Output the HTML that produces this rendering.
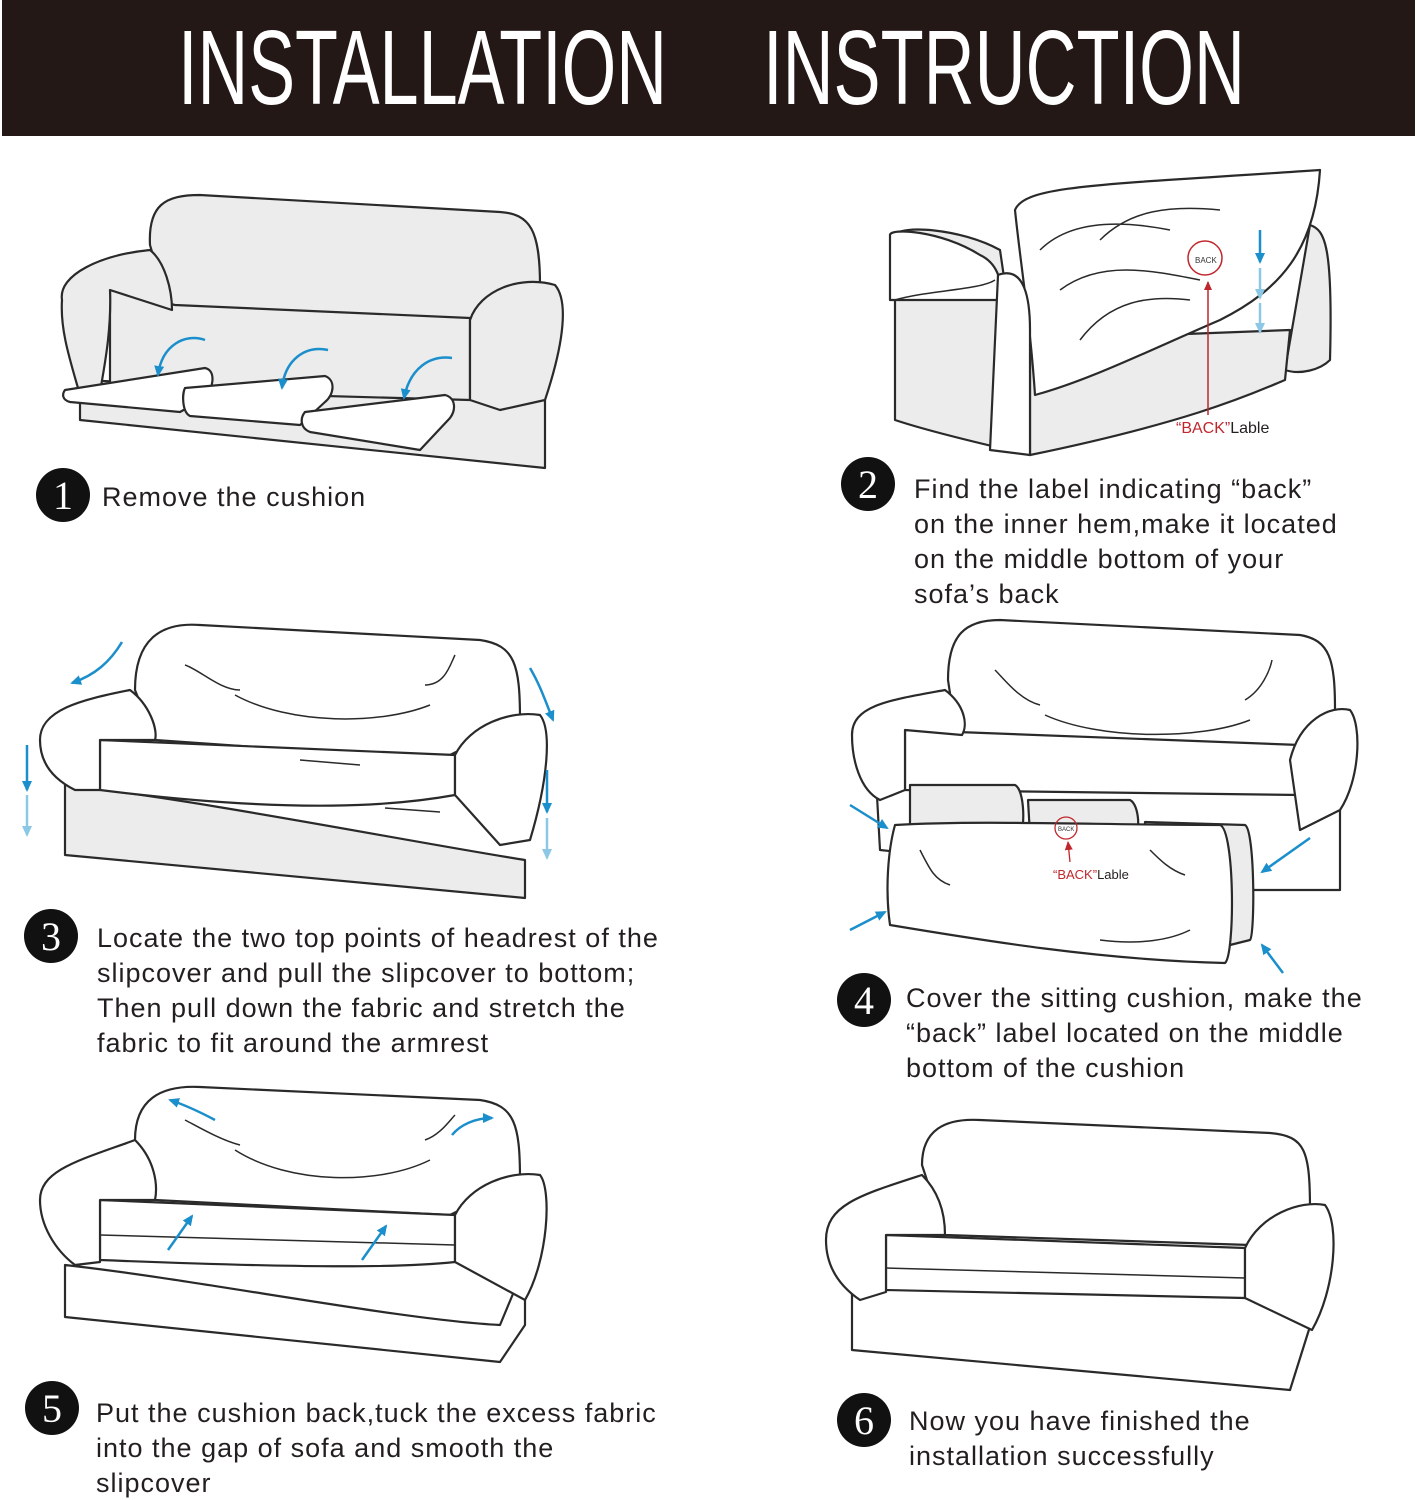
<!DOCTYPE html>
<html><head><meta charset="utf-8"><style>
html,body{margin:0;padding:0;background:#fff;}
svg{display:block}
.t{font-family:"Liberation Sans",Arial,sans-serif;font-size:27px;fill:#231f20;letter-spacing:1px}
.n{font-family:"Liberation Serif",serif;font-size:40px;fill:#fff;text-anchor:middle}
.s{fill:#ececec;stroke:#2a2a2a;stroke-width:2.2;stroke-linejoin:round}
.w{fill:#fff;stroke:#2a2a2a;stroke-width:2.2;stroke-linejoin:round}
.l{fill:none;stroke:#2a2a2a;stroke-width:1.5}
.b{fill:none;stroke:#1b8fcb;stroke-width:2.5}
.bl{fill:none;stroke:#8cc8e6;stroke-width:2.5}
</style></head><body>
<svg width="1417" height="1500" viewBox="0 0 1417 1500" xmlns="http://www.w3.org/2000/svg">
<defs>
<marker id="a" markerUnits="userSpaceOnUse" markerWidth="12" markerHeight="12" refX="9" refY="6" orient="auto"><path d="M0,1 L11,6 L0,11 Z" fill="#1b8fcb"/></marker>
<marker id="al" markerUnits="userSpaceOnUse" markerWidth="12" markerHeight="12" refX="9" refY="6" orient="auto"><path d="M0,1 L11,6 L0,11 Z" fill="#8cc8e6"/></marker>
<marker id="r" markerUnits="userSpaceOnUse" markerWidth="10" markerHeight="10" refX="8" refY="5" orient="auto"><path d="M0,1 L9,5 L0,9 Z" fill="#c0272d"/></marker>
</defs>
<rect x="2" y="0" width="1413" height="136" fill="#231816"/>
<text x="178" y="104" font-family="Liberation Sans Narrow,Liberation Sans,sans-serif" font-size="106" fill="#fff" textLength="489" lengthAdjust="spacingAndGlyphs">INSTALLATION</text>
<text x="763" y="104" font-family="Liberation Sans Narrow,Liberation Sans,sans-serif" font-size="106" fill="#fff" textLength="482" lengthAdjust="spacingAndGlyphs">INSTRUCTION</text>

<!-- Sofa 1 -->
<path class="s" d="M80,380 L545,400 L545,468 L80,420 Z"/>
<path class="s" d="M150,245 C148,205 165,195 200,195 L500,212 C530,214 540,230 540,285 L540,330 L175,330 Z"/>
<path class="s" d="M110,290 L175,305 L470,318 L470,400 L110,390 Z"/>
<path class="s" d="M62,300 C58,275 100,255 150,250 C165,262 172,290 172,310 L110,290 C112,340 100,385 100,395 L80,395 C70,360 60,330 62,300 Z"/>
<path class="s" d="M470,320 C480,290 520,275 555,285 C568,300 565,340 545,400 L500,410 L470,400 Z"/>
<path class="w" d="M65,390 L205,368 C215,370 215,385 205,398 L180,412 L70,402 C62,400 62,394 65,390 Z"/>
<path class="w" d="M185,388 L325,376 C336,380 334,395 325,402 L300,425 L190,416 C182,412 182,394 185,388 Z"/>
<path class="w" d="M305,412 L445,395 C456,398 456,410 450,418 L420,450 L310,432 C300,428 300,418 305,412 Z"/>
<path class="b" marker-end="url(#a)" d="M205,340 C185,333 162,345 158,375"/>
<path class="b" marker-end="url(#a)" d="M328,350 C305,345 285,360 282,388"/>
<path class="b" marker-end="url(#a)" d="M452,358 C430,355 410,368 404,398"/>

<!-- Sofa 2 -->
<path class="s" d="M895,235 C900,225 960,228 1000,250 L1030,455 C1010,450 940,435 895,420 Z"/>
<path class="s" d="M1310,225 C1325,230 1333,245 1330,360 C1320,370 1300,375 1285,370 Z"/>
<path class="s" d="M1030,340 L1290,330 L1285,380 C1260,390 1200,420 1030,455 Z"/>
<path class="w" d="M1015,210 C1025,185 1100,185 1320,170 C1315,250 1280,290 1220,320 C1150,350 1090,380 1035,395 C1030,320 1020,260 1015,210 Z"/>
<path class="l" d="M1040,250 C1070,220 1120,220 1170,230 M1060,290 C1100,260 1150,270 1200,280 M1080,340 C1110,300 1150,295 1190,300 M1100,240 C1130,210 1170,205 1220,210"/>
<path class="w" d="M890,235 C890,228 940,230 980,255 C995,262 1005,280 998,300 L890,300 Z"/>
<path class="w" d="M998,275 C1025,265 1030,300 1030,330 L1030,455 L990,450 Z"/>
<path class="l" d="M895,300 C930,290 980,290 995,280"/>
<circle cx="1205" cy="258" r="17" fill="none" stroke="#c0272d" stroke-width="1.5"/>
<text x="1195" y="263" font-family="Liberation Sans,sans-serif" font-size="8" fill="#333">BACK</text>
<path d="M1208,415 L1208,282" stroke="#c0272d" stroke-width="1.5" marker-end="url(#r)"/>
<text x="1176" y="433" font-family="Liberation Sans,sans-serif" font-size="16"><tspan fill="#c0272d">“BACK”</tspan><tspan fill="#231f20">Lable</tspan></text>
<path class="b" marker-end="url(#a)" d="M1260,230 L1260,262"/>
<path class="bl" marker-end="url(#al)" d="M1260,268 L1260,298"/>
<path class="bl" marker-end="url(#al)" d="M1260,303 L1260,332"/>

<!-- Sofa 3 -->
<path class="s" d="M65,785 C200,800 400,840 525,860 L525,898 L65,855 Z"/>
<path class="w" d="M135,690 C135,640 160,622 200,625 L480,640 C515,645 520,665 520,720 L440,760 L155,740 Z"/>
<path class="w" d="M100,740 L455,755 L455,795 C400,805 300,815 100,790 Z"/>
<path class="w" d="M40,740 C40,710 80,700 130,690 C150,705 158,730 155,740 L100,740 L100,790 L75,790 C55,780 40,765 40,740 Z"/>
<path class="w" d="M455,755 C470,725 510,710 540,715 C552,730 548,780 530,840 L500,845 L455,795 Z"/>
<path class="l" d="M235,695 C290,725 380,725 430,705 M240,690 C220,690 200,670 185,665 M425,685 C445,685 450,665 455,655 M385,808 L440,812 M300,760 L360,765"/>
<path class="b" marker-end="url(#a)" d="M122,642 C110,662 95,675 72,683"/>
<path class="b" marker-end="url(#a)" d="M530,668 C540,685 545,700 553,720"/>
<path class="b" marker-end="url(#a)" d="M27,745 L27,790"/>
<path class="bl" marker-end="url(#al)" d="M27,795 L27,835"/>
<path class="b" marker-end="url(#a)" d="M547,770 L547,812"/>
<path class="bl" marker-end="url(#al)" d="M547,818 L547,858"/>

<!-- Sofa 4 -->
<path class="w" d="M875,760 L1340,770 L1340,890 L1255,890 L880,850 Z"/>
<path class="w" d="M948,680 C948,635 965,620 1000,620 L1300,635 C1330,640 1335,660 1335,710 L1290,770 L960,760 Z"/>
<path class="w" d="M905,730 L1300,745 L1300,795 L905,790 Z"/>
<path class="w" d="M852,735 C852,705 890,700 945,690 C965,705 968,725 962,735 L905,730 L905,790 L880,800 C860,790 852,760 852,735 Z"/>
<path class="w" d="M1290,760 C1300,720 1330,705 1350,710 C1362,725 1360,780 1340,810 L1300,830 Z"/>
<path class="l" d="M1045,715 C1100,740 1200,740 1250,720 M1040,705 C1020,700 1005,680 995,670 M1245,700 C1262,690 1270,670 1272,660"/>
<path class="s" d="M910,785 L1015,785 C1025,790 1025,830 1020,835 L910,830 Z"/>
<path class="s" d="M1028,800 L1130,800 C1140,805 1140,835 1135,840 L1030,835 Z"/>
<path class="s" d="M1145,822 L1245,825 C1255,830 1255,935 1250,940 L1230,945 L1145,900 Z"/>
<path class="w" d="M895,825 C980,820 1100,825 1220,825 C1235,830 1235,955 1225,963 C1100,960 980,940 890,925 C885,890 888,850 895,825 Z"/>
<path class="l" d="M920,850 C930,870 935,880 950,885 M1100,940 C1140,945 1170,940 1190,930 M1150,850 C1160,860 1170,870 1185,875"/>
<circle cx="1066" cy="828" r="11" fill="none" stroke="#c0272d" stroke-width="1.3"/>
<text x="1058" y="831" font-family="Liberation Sans,sans-serif" font-size="6" fill="#333">BACK</text>
<path d="M1070,862 L1068,842" stroke="#c0272d" stroke-width="1.3" marker-end="url(#r)"/>
<text x="1053" y="879" font-family="Liberation Sans,sans-serif" font-size="13"><tspan fill="#c0272d">“BACK”</tspan><tspan fill="#231f20">Lable</tspan></text>
<path class="b" marker-end="url(#a)" d="M850,805 L887,828"/>
<path class="b" marker-end="url(#a)" d="M850,930 L885,912"/>
<path class="b" marker-end="url(#a)" d="M1310,838 L1262,872"/>
<path class="b" marker-end="url(#a)" d="M1283,973 L1262,945"/>

<!-- Sofa 5 -->
<path class="w" d="M65,1265 C200,1280 400,1320 500,1325 L525,1265 L525,1325 L500,1362 L65,1317 Z"/>
<path class="w" d="M135,1140 C135,1100 160,1085 200,1087 L480,1100 C515,1105 520,1125 520,1180 L450,1215 L155,1200 Z"/>
<path class="w" d="M100,1200 L455,1215 L455,1262 C400,1268 300,1268 100,1260 Z"/>
<path class="l" d="M100,1235 L455,1245"/>
<path class="w" d="M40,1200 C40,1170 80,1160 135,1140 C155,1160 158,1185 155,1200 L100,1200 L100,1262 L75,1265 C55,1250 40,1225 40,1200 Z"/>
<path class="w" d="M455,1215 C470,1185 510,1170 540,1175 C552,1190 548,1260 525,1300 L455,1262 Z"/>
<path class="l" d="M235,1150 C290,1185 380,1185 430,1160 M240,1145 C220,1140 195,1125 185,1120 M425,1140 C440,1135 450,1120 455,1115"/>
<path class="b" marker-end="url(#a)" d="M215,1120 C200,1112 185,1105 170,1100"/>
<path class="b" marker-end="url(#a)" d="M452,1135 C460,1125 475,1118 492,1118"/>
<path class="b" marker-end="url(#a)" d="M168,1250 L192,1216"/>
<path class="b" marker-end="url(#a)" d="M362,1260 L386,1226"/>

<!-- Sofa 6 -->
<path class="w" d="M852,1285 L1312,1300 L1312,1320 L1290,1390 L852,1350 Z"/>
<path class="w" d="M922,1165 C922,1130 945,1118 980,1120 L1270,1133 C1305,1136 1310,1150 1310,1210 L1250,1245 L945,1235 Z"/>
<path class="w" d="M886,1235 L1245,1248 L1245,1298 L886,1290 Z"/>
<path class="l" d="M886,1268 L1245,1278"/>
<path class="w" d="M826,1240 C826,1205 860,1195 922,1175 C942,1195 945,1220 945,1235 L886,1235 L886,1292 L860,1300 C838,1285 826,1265 826,1240 Z"/>
<path class="w" d="M1245,1248 C1260,1215 1300,1200 1325,1205 C1340,1225 1335,1290 1312,1330 L1245,1298 Z"/>

<!-- numbers -->
<circle cx="63" cy="495" r="27" fill="#111"/><text class="n" x="63" y="509">1</text>
<circle cx="868" cy="484" r="27" fill="#111"/><text class="n" x="868" y="498">2</text>
<circle cx="51" cy="936" r="27" fill="#111"/><text class="n" x="51" y="950">3</text>
<circle cx="864" cy="1000" r="27" fill="#111"/><text class="n" x="864" y="1014">4</text>
<circle cx="52" cy="1408" r="27" fill="#111"/><text class="n" x="52" y="1422">5</text>
<circle cx="864" cy="1420" r="27" fill="#111"/><text class="n" x="864" y="1434">6</text>

<text class="t" x="102" y="506">Remove the cushion</text>
<text class="t" x="914" y="498">Find the label indicating “back”</text>
<text class="t" x="914" y="533">on the inner hem,make it located</text>
<text class="t" x="914" y="568">on the middle bottom of your</text>
<text class="t" x="914" y="603">sofa’s back</text>
<text class="t" x="97" y="947">Locate the two top points of headrest of the</text>
<text class="t" x="97" y="982">slipcover and pull the slipcover to bottom;</text>
<text class="t" x="97" y="1017">Then pull down the fabric and stretch the</text>
<text class="t" x="97" y="1052">fabric to fit around the armrest</text>
<text class="t" x="906" y="1007">Cover the sitting cushion, make the</text>
<text class="t" x="906" y="1042">“back” label located on the middle</text>
<text class="t" x="906" y="1077">bottom of the cushion</text>
<text class="t" x="96" y="1422">Put the cushion back,tuck the excess fabric</text>
<text class="t" x="96" y="1457">into the gap of sofa and smooth the</text>
<text class="t" x="96" y="1492">slipcover</text>
<text class="t" x="909" y="1430">Now you have finished the</text>
<text class="t" x="909" y="1465">installation successfully</text>
</svg>
</body></html>
